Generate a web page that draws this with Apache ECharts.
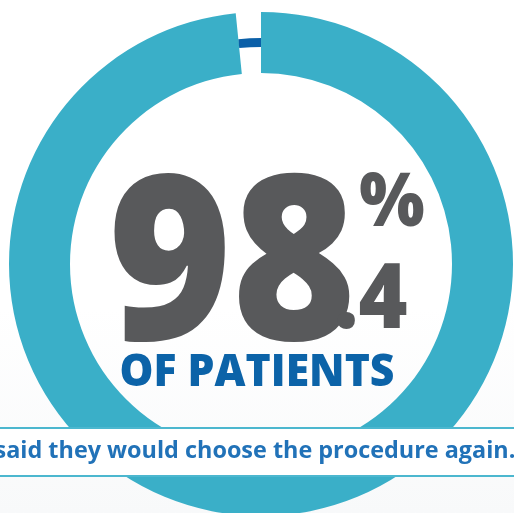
<!DOCTYPE html>
<html><head><meta charset="utf-8">
<script src="https://cdn.jsdelivr.net/npm/echarts@6/dist/echarts.min.js"></script>
<style>html,body{margin:0;padding:0;background:#fff}#c{width:514px;height:513px}</style>
</head><body><div id="c"></div>
<script>
const categories = ['Would choose the procedure again', 'Would not'];
const values = [98.4, 1.6];
const subtitle = 'OF PATIENTS';
const caption = 'said they would choose the procedure again.';

const pct = values[0];
const intPart = String(Math.floor(pct));
const decPart = '.' + String(Math.round((pct - Math.floor(pct)) * 10));

const chart = echarts.init(document.getElementById('c'));
const FONT = '"Open Sans", "Noto Sans", sans-serif';
chart.setOption({
  animation: false,
  backgroundColor: {
    type: 'linear', x: 0, y: 0, x2: 0, y2: 1,
    colorStops: [{offset: 0, color: '#ffffff'}, {offset: 0.6, color: '#ffffff'}, {offset: 1, color: '#f8f9fa'}]
  },
  series: [
    {
      type: 'pie', silent: true, z: 1,
      center: [261, 264], radius: [217, 226],
      startAngle: 90, clockwise: true,
      label: {show: false}, labelLine: {show: false},
      data: categories.map((c, i) => ({name: c, value: values[i],
        itemStyle: {color: '#0a5fa8'}}))
    },
    {
      type: 'pie', silent: true, z: 2,
      center: [261, 264], radius: [191, 252],
      startAngle: 90, clockwise: true,
      label: {show: false}, labelLine: {show: false},
      data: categories.map((c, i) => ({name: c, value: values[i],
        itemStyle: {color: i === 0 ? '#3aafc8' : 'rgba(0,0,0,0)'}}))
    }
  ],
  graphic: [
    {type: 'rect', z: 100, shape: {x: -5, y: 428, width: 524, height: 48},
      style: {fill: '#ffffff', stroke: '#4cb7cf', lineWidth: 2}},
    {type: 'text', z: 101, x: 255, y: 451, style: {text: caption, textAlign: 'center', textVerticalAlign: 'middle',
      font: 'bold 23.4px ' + FONT, fill: '#2172b8'}},
    {type: 'text', z: 101, x: 232, y: 274, scaleX: 0.92, style: {text: intPart, textAlign: 'center', textVerticalAlign: 'middle',
      font: '800 230px ' + FONT, fill: '#58595b'}},
    {type: 'text', z: 101, x: 392, y: 205, scaleX: 0.92, style: {text: '%', textAlign: 'center', textVerticalAlign: 'middle',
      font: '800 75px ' + FONT, fill: '#58595b'}},
    {type: 'text', z: 101, x: 371, y: 302, scaleX: 0.92, style: {text: decPart, textAlign: 'center', textVerticalAlign: 'middle',
      font: '800 91px ' + FONT, fill: '#58595b'}},
    {type: 'text', z: 101, x: 257, y: 373, scaleX: 0.97, style: {text: subtitle, textAlign: 'center', textVerticalAlign: 'middle',
      font: '800 44px ' + FONT, fill: '#0c63a8'}}
  ]
});
</script></body></html>
